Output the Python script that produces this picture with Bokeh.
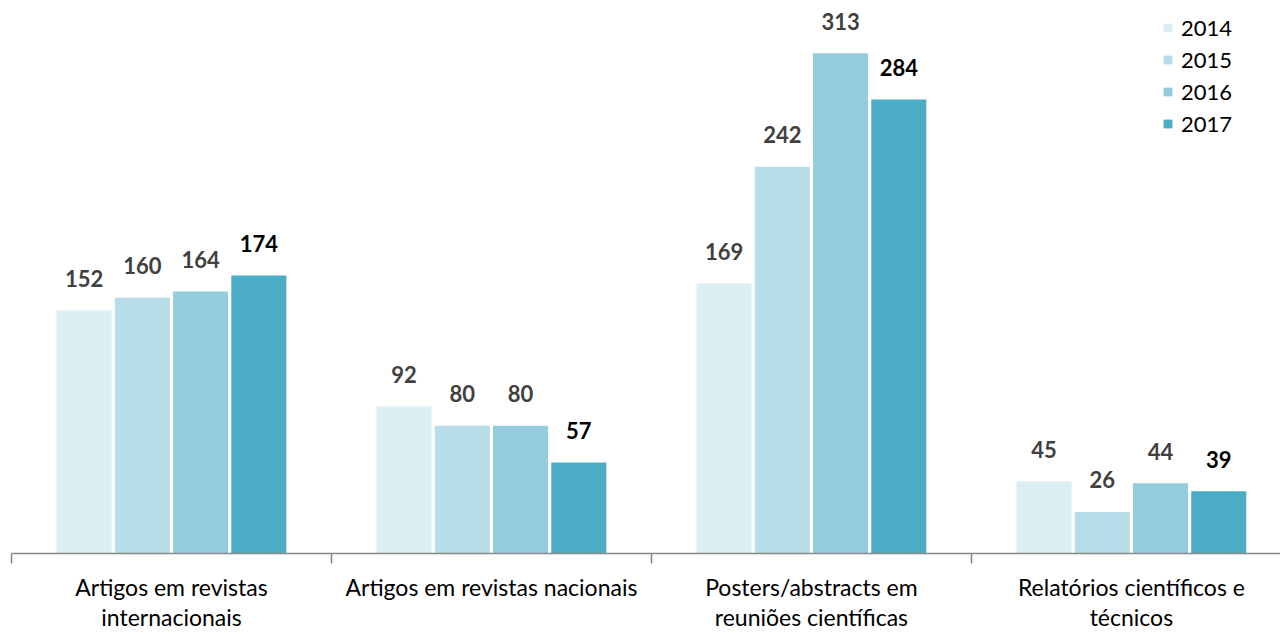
from bokeh.plotting import figure
from bokeh.models import FixedTicker, ColumnDataSource, Range1d, Legend, LegendItem
from bokeh.embed import file_html
from bokeh.resources import INLINE
from bokeh.core.properties import value

categories = ["Artigos em revistas\ninternacionais",
              "Artigos em revistas nacionais",
              "Posters/abstracts em\nreuniões científicas",
              "Relatórios científicos e\ntécnicos"]
years = ["2014", "2015", "2016", "2017"]
v2014 = [152, 92, 169, 45]
v2015 = [160, 80, 242, 26]
v2016 = [164, 80, 313, 44]
v2017 = [174, 57, 284, 39]
series = [v2014, v2015, v2016, v2017]
colors = ["#DAEEF3", "#B7DEE8", "#93CDDD", "#4BACC6"]
label_colors = ["#404040", "#404040", "#404040", "#000000"]

FONT = "Lato"

p = figure(width=1280, height=634, output_backend="svg", toolbar_location=None,
           x_range=Range1d(0, 3.966), y_range=Range1d(0, 346),
           min_border_left=11, min_border_right=0, min_border_top=0, min_border_bottom=60)
p.outline_line_color = None
p.xgrid.visible = False
p.ygrid.visible = False
p.yaxis.visible = False
p.background_fill_color = "white"
p.border_fill_color = "white"

step = 0.182
bw = 0.172
items = []
for j, (yr, vals) in enumerate(zip(years, series)):
    xs = [i + 0.5 + (j - 1.5) * step for i in range(len(categories))]
    src = ColumnDataSource(dict(x=xs, top=vals, lab=[str(v) for v in vals]))
    r = p.vbar(x="x", top="top", width=bw, source=src, fill_color=colors[j], line_color=None)
    items.append(LegendItem(label=yr, renderers=[r]))
    p.text(x="x", y="top", text="lab", source=src, y_offset=-32,
           text_align="center", text_baseline="middle",
           text_font=value(FONT), text_font_style="bold", text_font_size="22px",
           text_color=label_colors[j])

legend = Legend(items=items, location=(1151, 416), orientation="vertical",
                glyph_width=11, glyph_height=11, label_standoff=8, spacing=5,
                label_text_font=FONT, label_text_font_size="22px", label_text_color="#000000",
                padding=0, margin=0, border_line_color=None, background_fill_alpha=0)
p.add_layout(legend)

ax = p.xaxis[0]
ax.ticker = FixedTicker(ticks=[0.5, 1.5, 2.5, 3.5], minor_ticks=[0, 1, 2, 3, 4])
ax.major_label_overrides = {0.5: categories[0], 1.5: categories[1],
                            2.5: categories[2], 3.5: categories[3]}
ax.major_tick_out = 0
ax.major_tick_in = 0
ax.minor_tick_out = 10
ax.minor_tick_in = 0
ax.minor_tick_line_color = "#898989"
ax.axis_line_color = "#898989"
ax.axis_line_width = 1.5
ax.minor_tick_line_width = 1.5
ax.major_label_standoff = 9
ax.major_label_text_font = FONT
ax.major_label_text_font_size = "23px"
ax.major_label_text_color = "#000000"
ax.major_label_text_line_height = 1.1

open("out.html", "w").write(file_html(p, INLINE))
